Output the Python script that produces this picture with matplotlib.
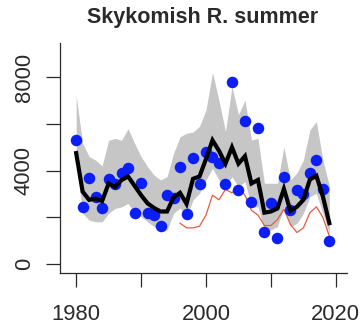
import numpy as np
from matplotlib import pyplot as plt

# observed counts (blue points), thousands
years = np.arange(1980, 2020)
obs = [5.31, 2.43, 3.70, 2.86, 2.40, 3.65, 3.44, 3.88, 4.10, 2.18,
       3.48, 2.17, 2.10, 1.65, 2.96, 2.84, 4.14, 2.14, 4.53, 3.43,
       4.80, 4.60, 4.31, 3.43, 7.81, 3.17, 6.12, 2.67, 5.84, 1.38,
       2.63, 1.13, 3.74, 2.32, 3.19, 3.02, 3.88, 4.45, 3.20, 0.98]

# model median (black line) and interval (grey band), thousands
median = [4.75, 3.10, 2.75, 2.80, 2.70, 3.45, 3.30, 3.60, 3.75, 3.35,
          2.95, 2.60, 2.40, 2.25, 2.25, 2.85, 3.05, 2.58, 3.65, 3.75,
          4.50, 5.30, 4.85, 4.30, 5.00, 4.30, 4.62, 3.45, 3.60, 2.20,
          2.25, 2.38, 3.22, 2.28, 2.45, 2.75, 3.62, 3.78, 2.90, 1.75]
upper = [7.20, 5.17, 4.60, 4.45, 4.20, 5.30, 5.38, 5.30, 5.80, 5.17,
         4.60, 4.17, 3.81, 3.60, 3.74, 4.74, 5.45, 5.60, 5.65, 5.90,
         6.60, 8.20, 7.00, 5.67, 7.60, 6.40, 7.02, 5.31, 5.38, 3.46,
         3.46, 3.46, 5.02, 3.60, 3.90, 4.45, 5.74, 6.10, 4.45, 3.35]
lower = [4.40, 2.17, 1.88, 1.81, 1.81, 2.17, 2.38, 2.45, 2.60, 2.17,
         2.03, 1.81, 1.60, 1.46, 1.46, 2.17, 2.40, 2.03, 2.74, 3.03,
         3.60, 4.10, 3.60, 3.31, 3.74, 3.31, 3.53, 2.45, 2.45, 1.46,
         1.46, 1.60, 2.45, 1.60, 1.74, 2.17, 2.88, 3.03, 2.17, 1.31]

# red series (starts 1996), thousands
red_years = np.arange(1996, 2020)
red = [1.75, 1.55, 1.55, 1.62, 2.10, 2.95, 2.75, 3.20, 3.05, 3.30,
       2.95, 2.30, 2.10, 1.65, 1.65, 1.90, 2.35, 1.70, 1.35, 1.55,
       2.20, 2.45, 2.00, 1.20]

k = 1000
dark = '#2a2a2a'
font = {'family': 'Liberation Sans', 'size': 15.8, 'color': dark}

fig = plt.figure(figsize=(3.61, 3.27), dpi=100)
ax = fig.add_axes([0.166, 0.165, 0.794, 0.7035])

ax.fill_between(years, np.array(lower)*k, np.array(upper)*k, color='#c6c6c6', lw=0)
ax.plot(red_years, np.array(red)*k, color='#e85a40', lw=0.9)
ax.plot(years, np.array(obs)*k, 'o', color='#0a1ef5', ms=8.3, mec='none')
ax.plot(years, np.array(median)*k, color='black', lw=3, solid_joinstyle='miter')

ax.set_xlim(1977.5, 2021.65)
ax.set_ylim(-385, 9465)

ax.spines[['top', 'right']].set_visible(False)
for s in ['left', 'bottom']:
    ax.spines[s].set_color(dark)
    ax.spines[s].set_linewidth(0.9)

ax.set_xticks([1980, 1990, 2000, 2010, 2020])
ax.set_xticklabels(['1980', '', '2000', '', '2020'])
ax.set_yticks([0, 2000, 4000, 6000, 8000])
ax.set_yticklabels(['0', '', '4000', '', '8000'], rotation=90, va='center')
ax.tick_params(axis='both', length=10, width=0.9, color=dark)
ax.tick_params(axis='x', pad=12)
ax.tick_params(axis='y', pad=8)

for label in ax.get_xticklabels() + ax.get_yticklabels():
    label.set_fontfamily(font['family'])
    label.set_fontsize(font['size'])
    label.set_color(dark)

fig.text(0.56, 0.945, 'Skykomish R. summer', ha='center', va='center',
         fontweight='bold', fontdict={'family': 'Liberation Sans', 'size': 15.5, 'color': dark})

plt.savefig('out.png', dpi=100)
